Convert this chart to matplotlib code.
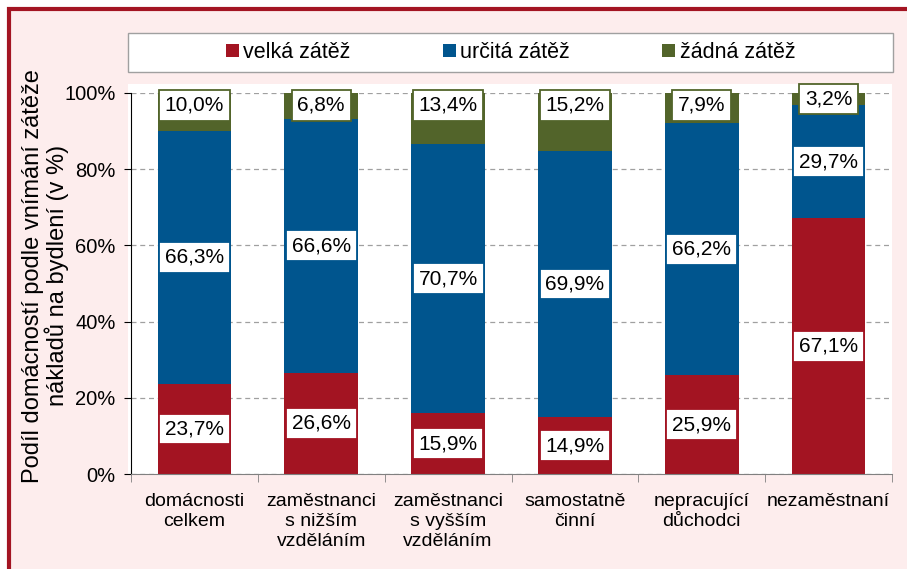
import matplotlib
matplotlib.use("Agg")
import matplotlib.pyplot as plt
from matplotlib.patches import Rectangle
import numpy as np

plt.rcParams['font.family'] = ['Liberation Sans Narrow', 'Liberation Sans', 'DejaVu Sans']

kategorie = ["domácnosti\ncelkem", "zaměstnanci\ns nižším\nvzděláním", "zaměstnanci\ns vyšším\nvzděláním",
             "samostatně\nčinní", "nepracující\ndůchodci", "nezaměstnaní"]
velka = [23.7, 26.6, 15.9, 14.9, 25.9, 67.1]
urcita = [66.3, 66.6, 70.7, 69.9, 66.2, 29.7]
zadna = [10.0, 6.8, 13.4, 15.2, 7.9, 3.2]
serie_nazvy = ["velká zátěž", "určitá zátěž", "žádná zátěž"]
barvy = ["#A31422", "#00558E", "#52642A"]

W, H = 907, 569
fig = plt.figure(figsize=(W/100, H/100), dpi=100, facecolor="white")

# ramecek, pozadi grafu a ramecek legendy
fig.patches.append(Rectangle((9/W, -0.1), 1.2, (H-9)/H + 0.1, transform=fig.transFigure,
                             facecolor="#FDEDED", edgecolor="#A31422", lw=3, zorder=-10))
fig.patches.append(Rectangle((128/W, 1-474/H), (892-128)/W, (474-84)/H, transform=fig.transFigure,
                             facecolor="white", edgecolor="none", zorder=-9))
fig.patches.append(Rectangle((128/W, 1-72/H), (893-128)/W, 39/H, transform=fig.transFigure,
                             facecolor="white", edgecolor="#A0A0A0", lw=1, zorder=-9))

ax = fig.add_axes([131/W, 1-474/H, (892-131)/W, (474-93)/H])
ax.set_facecolor("none")

x = np.arange(len(kategorie))
sirka = 0.58
spodek = np.zeros(len(x))
hodnoty = [velka, urcita, zadna]
for i, (vals, c, n) in enumerate(zip(hodnoty, barvy, serie_nazvy)):
    ax.bar(x, vals, sirka, bottom=spodek, color=c, label=n, zorder=2)
    for xi, b, v in zip(x, spodek, vals):
        y = b + v/2
        if i == 2:
            y = max(y, 96.8)
        ax.text(xi, y, f"{v:.1f}%".replace(".", ","), ha="center", va="center", fontsize=15,
                zorder=5, clip_on=False,
                bbox=dict(boxstyle="square,pad=0.28", fc="white", ec=c, lw=1.3))
    spodek = spodek + np.array(vals)

ax.set_ylim(0, 100)
ax.set_xlim(-0.5, len(x)-0.5)
ax.set_yticks(np.arange(0, 101, 20))
ax.set_yticklabels([f"{v}%" for v in range(0, 101, 20)], fontsize=14.5)
ax.yaxis.grid(True, linestyle=(0, (4, 3)), color="#A0A0A0", lw=0.9, zorder=1)
ax.set_axisbelow(True)

ax.set_xticks(x)
ax.set_xticklabels(kategorie, fontsize=14, linespacing=1.22)
ax.set_xticks(np.arange(-0.5, len(x)), minor=True)
ax.tick_params(axis="x", which="major", length=0, pad=14)
ax.tick_params(axis="x", which="minor", length=6, color="#808080")
ax.tick_params(axis="y", length=5, pad=6)

for s in ["top", "right"]:
    ax.spines[s].set_visible(False)
ax.spines["left"].set_color("black")
ax.spines["bottom"].set_color("#808080")

ax.set_ylabel("Podíl domácností podle vnímání zátěže\nnákladů na bydlení (v %)", fontsize=17,
              linespacing=1.0)
ax.yaxis.set_label_coords(-0.082, 0.52)

h, l = ax.get_legend_handles_labels()
leg = fig.legend(h, l, loc="center", bbox_to_anchor=(128/W, 1-72/H, (893-128)/W, 39/H), ncol=3,
                 fontsize=15.5, frameon=False, handlelength=0.6, handleheight=0.6, handletextpad=0.2,
                 columnspacing=4.3, borderaxespad=0)

fig.savefig("out.png", dpi=100, facecolor=fig.get_facecolor())
